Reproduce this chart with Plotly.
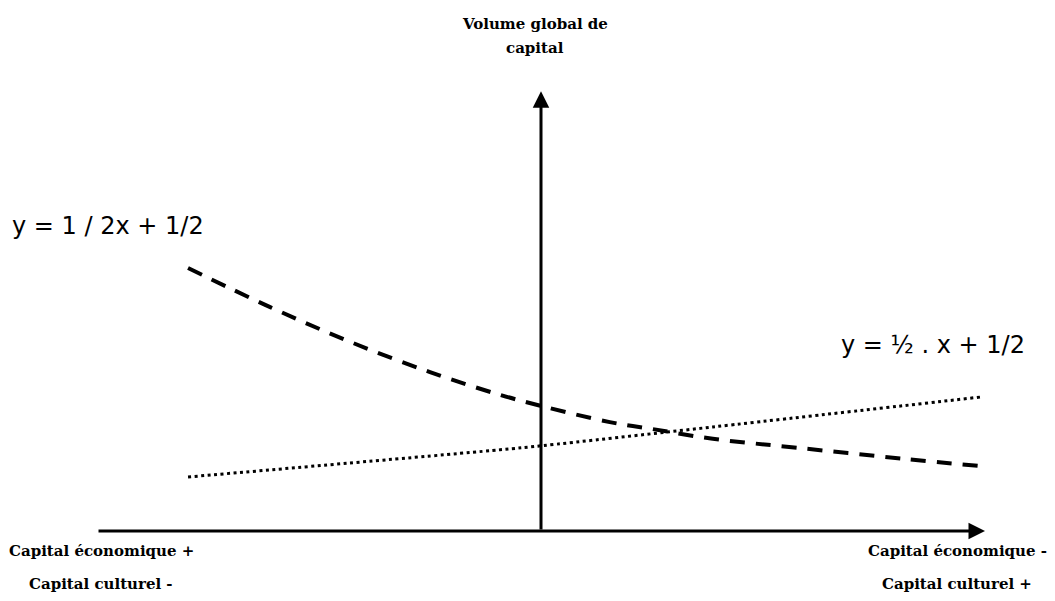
import plotly.graph_objects as go

# Dashed curve (abstract units: x in [-1,1], y from 0 at horizontal axis)
curve_x = [-0.795, -0.610, -0.430, -0.250, -0.092, 0.0, 0.155, 0.252, 0.387, 0.583, 0.820, 0.989]
curve_y = [0.599, 0.510, 0.431, 0.362, 0.310, 0.285, 0.248, 0.232, 0.210, 0.189, 0.164, 0.148]

# Dotted line
line_x = [-0.795, -0.092, 0.0, 0.387, 0.989]
line_y = [0.123, 0.185, 0.194, 0.237, 0.305]

eq1 = "y = 1 / 2x + 1/2"
eq2 = "y = ½ . x + 1/2"
title_lines = ["Volume global de", "capital"]
left_labels = ["Capital économique +", "Capital culturel -"]
right_labels = ["Capital économique -", "Capital culturel +"]

fig = go.Figure()
fig.add_trace(go.Scatter(x=curve_x, y=curve_y, mode="lines", line=dict(color="black", width=4, dash="15px,11px", shape="spline"), hoverinfo="skip"))
fig.add_trace(go.Scatter(x=line_x, y=line_y, mode="lines", line=dict(color="black", width=3, dash="3px,3.5px", shape="spline"), hoverinfo="skip"))

serif = dict(family="DejaVu Serif", size=15, color="black")
sans = dict(family="DejaVu Sans", size=24, color="black")

ann = []
# axes arrows
ann.append(dict(x=1.0, y=0, ax=-1.0, ay=0, xref="x", yref="y", axref="x", ayref="y", text="", showarrow=True, arrowhead=2, arrowsize=1.1, arrowwidth=3, arrowcolor="black"))
ann.append(dict(x=0, y=1.002, ax=0, ay=0, xref="x", yref="y", axref="x", ayref="y", text="", showarrow=True, arrowhead=2, arrowsize=1.1, arrowwidth=3, arrowcolor="black"))

def txt(t, x, y, font):
    return dict(text="<b>%s</b>" % t if font is serif else t, x=x, y=y, xref="x", yref="y", showarrow=False, xanchor="center", yanchor="middle", font=font)

ann.append(txt(title_lines[0], -0.0135, 1.155, serif))
ann.append(txt(title_lines[1], -0.0135, 1.100, serif))
ann.append(txt(eq1, -0.975, 0.695, sans))
ann.append(txt(eq2, 0.883, 0.424, sans))
ann.append(txt(left_labels[0], -0.991, -0.045, serif))
ann.append(txt(left_labels[1], -0.991, -0.121, serif))
ann.append(txt(right_labels[0], 0.937, -0.045, serif))
ann.append(txt(right_labels[1], 0.937, -0.121, serif))

fig.update_layout(
    width=1055, height=601,
    margin=dict(l=0, r=0, t=0, b=0),
    paper_bgcolor="white", plot_bgcolor="white",
    showlegend=False,
    xaxis=dict(range=[-1.2185, 1.1577], visible=False, fixedrange=True),
    yaxis=dict(range=[-0.1595, 1.2096], visible=False, fixedrange=True),
    annotations=ann,
)
fig.write_html("out.html", config={"displayModeBar": False},
               post_script="document.body.style.margin='0';document.body.style.overflow='hidden';")
